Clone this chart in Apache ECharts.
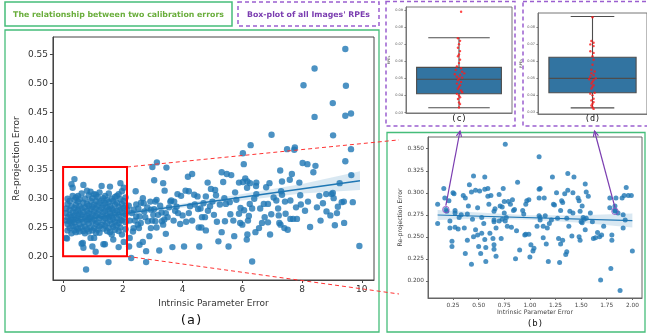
<!DOCTYPE html>
<html><head><meta charset="utf-8">
<script src="https://cdn.jsdelivr.net/npm/echarts@6/dist/echarts.min.js"></script>
<style>html,body{margin:0;padding:0;background:#fff}#c{width:647px;height:336px}</style>
</head><body><div id="c"></div>
<script>
// ---------- DATA ----------
const titleLeft = 'The relationship between two calibration errors';
const titleRight = "Box-plot of all Images' RPEs";
const xTicksA = [0, 2, 4, 6, 8, 10];
const yTicksA = [0.20, 0.25, 0.30, 0.35, 0.40, 0.45, 0.50, 0.55];
const xTicksB = [0.25, 0.50, 0.75, 1.00, 1.25, 1.50, 1.75, 2.00];
const yTicksB = [0.200, 0.225, 0.250, 0.275, 0.300, 0.325, 0.350];
const yTicksC = [0.03, 0.04, 0.05, 0.06, 0.07, 0.08, 0.09];
const yTicksD = [0.03, 0.04, 0.05, 0.06, 0.07, 0.08];

// panel (a): points with intrinsic error below ~2.1
const clusterA = [
[0.10,0.232],[0.10,0.262],[0.10,0.283],[0.10,0.275],
[0.15,0.245],[0.15,0.268],[0.15,0.291],[0.15,0.300],[0.15,0.256],
[0.22,0.281],[0.22,0.249],[0.22,0.272],[0.22,0.296],[0.22,0.261],
[0.28,0.325],[0.28,0.258],[0.28,0.287],[0.28,0.240],[0.28,0.268],
[0.32,0.319],[0.32,0.305],[0.32,0.276],[0.32,0.252],[0.32,0.263],
[0.38,0.334],[0.38,0.298],[0.38,0.284],[0.38,0.245],[0.38,0.271],[0.38,0.259],
[0.43,0.302],[0.43,0.289],[0.43,0.266],[0.43,0.251],[0.43,0.242],[0.43,0.278],
[0.50,0.295],[0.50,0.280],[0.50,0.262],[0.50,0.248],[0.50,0.305],[0.50,0.270],
[0.55,0.287],[0.55,0.274],[0.55,0.256],[0.55,0.243],[0.55,0.299],
[0.62,0.309],[0.62,0.283],[0.62,0.265],[0.62,0.250],[0.62,0.272],[0.62,0.222],
[0.68,0.324],[0.68,0.293],[0.68,0.277],[0.68,0.259],[0.68,0.244],[0.68,0.215],
[0.73,0.300],[0.73,0.285],[0.73,0.268],[0.73,0.252],[0.73,0.240],
[0.80,0.314],[0.80,0.291],[0.80,0.279],[0.80,0.262],[0.80,0.247],[0.80,0.271],
[0.86,0.306],[0.86,0.288],[0.86,0.257],[0.86,0.243],[0.86,0.275],[0.86,0.265],
[0.92,0.312],[0.92,0.296],[0.92,0.282],[0.92,0.268],[0.92,0.250],[0.92,0.232],
[0.98,0.301],[0.98,0.286],[0.98,0.273],[0.98,0.260],[0.98,0.245],[0.98,0.217],
[1.04,0.308],[1.04,0.290],[1.04,0.278],[1.04,0.264],[1.04,0.249],[1.04,0.232],
[1.10,0.296],[1.10,0.283],[1.10,0.270],[1.10,0.256],[1.10,0.241],[1.10,0.307],
[1.16,0.303],[1.16,0.288],[1.16,0.274],[1.16,0.259],[1.16,0.246],
[1.22,0.293],[1.22,0.280],[1.22,0.266],[1.22,0.252],[1.22,0.241],[1.22,0.311],
[1.29,0.322],[1.29,0.297],[1.29,0.284],[1.29,0.270],[1.29,0.255],
[1.35,0.289],[1.35,0.276],[1.35,0.262],[1.35,0.248],[1.35,0.301],[1.35,0.221],
[1.41,0.305],[1.41,0.292],[1.41,0.279],[1.41,0.266],[1.41,0.253],
[1.47,0.298],[1.47,0.285],[1.47,0.271],[1.47,0.258],[1.47,0.244],
[1.53,0.309],[1.53,0.294],[1.53,0.281],[1.53,0.268],[1.53,0.249],[1.52,0.190],
[1.57,0.321],[1.57,0.287],[1.57,0.275],[1.57,0.262],[1.57,0.242],
[1.63,0.300],[1.63,0.283],[1.63,0.270],[1.63,0.256],[1.63,0.238],
[1.68,0.296],[1.68,0.280],[1.68,0.265],[1.68,0.251],[1.68,0.229],
[1.74,0.303],[1.74,0.290],[1.74,0.276],[1.74,0.260],[1.74,0.246],
[1.80,0.293],[1.80,0.279],[1.80,0.267],[1.80,0.254],[1.80,0.305],
[1.86,0.308],[1.86,0.286],[1.86,0.272],[1.86,0.258],[1.86,0.244],[1.86,0.216],
[1.92,0.327],[1.92,0.299],[1.92,0.281],[1.92,0.263],[1.92,0.250],
[1.97,0.313],[1.97,0.291],[1.97,0.276],[1.97,0.262],[1.97,0.238],
[2.03,0.319],[2.03,0.296],[2.03,0.284],[2.03,0.268],[2.03,0.225],
[2.09,0.302],[2.09,0.287],[2.09,0.273],[2.09,0.259],[2.09,0.247],
[0.77,0.177],[1.09,0.208],[0.13,0.231],[0.66,0.223],[1.40,0.221]
];
// panel (a): points with intrinsic error above ~2.1
const spreadA = [
[9.45,0.560],[8.42,0.526],[8.05,0.497],[9.47,0.496],[9.03,0.466],[8.42,0.442],[9.45,0.444],[9.64,0.448],
[9.04,0.410],[6.98,0.411],[6.28,0.393],[9.64,0.386],[7.50,0.386],[7.76,0.389],[7.74,0.385],[6.02,0.379],
[8.02,0.362],[8.18,0.360],[6.05,0.360],[9.45,0.365],[8.45,0.357],[8.38,0.346],[7.27,0.349],[9.65,0.341],
[7.66,0.343],[7.59,0.333],[3.14,0.363],[2.99,0.355],[3.46,0.354],[4.32,0.343],[4.18,0.338],[5.31,0.346],
[5.48,0.343],[5.63,0.341],[6.10,0.335],[5.89,0.328],[6.17,0.330],[6.26,0.327],[6.47,0.328],[6.46,0.322],
[6.16,0.319],[6.91,0.327],[6.80,0.320],[7.33,0.330],[7.91,0.328],[9.26,0.327],[3.05,0.332],[3.35,0.327],
[3.40,0.314],[4.84,0.328],[5.36,0.329],[4.95,0.317],[5.09,0.315],[4.10,0.314],[4.21,0.313],[3.83,0.308],
[3.95,0.305],[3.59,0.295],[3.72,0.295],[4.39,0.307],[4.50,0.304],[4.78,0.304],[5.12,0.306],[5.58,0.294],
[5.76,0.311],[6.02,0.329],[6.47,0.308],[6.72,0.291],[6.86,0.291],[7.14,0.297],[7.30,0.313],[7.43,0.295],
[7.33,0.307],[7.61,0.297],[7.94,0.306],[7.96,0.290],[8.58,0.305],[8.81,0.308],[8.99,0.308],[9.03,0.310],
[9.06,0.301],[9.33,0.294],[9.40,0.295],[9.70,0.294],[8.10,0.279],[8.82,0.278],[9.17,0.275],[8.95,0.271],
[7.83,0.265],[7.70,0.265],[7.61,0.265],[7.22,0.271],[7.24,0.258],[7.28,0.255],[7.41,0.249],[7.52,0.246],
[8.62,0.262],[8.27,0.251],[9.10,0.254],[9.41,0.258],[9.92,0.218],[6.97,0.273],[6.66,0.258],[6.56,0.249],
[6.44,0.242],[6.93,0.238],[6.86,0.259],[6.33,0.283],[6.25,0.291],[6.22,0.270],[6.19,0.262],[6.17,0.238],
[6.15,0.229],[6.06,0.280],[5.94,0.284],[5.89,0.274],[5.93,0.258],[6.00,0.255],[5.73,0.235],[5.54,0.217],
[5.20,0.226],[5.31,0.242],[5.42,0.261],[5.45,0.291],[5.40,0.301],[6.33,0.191],[5.00,0.295],[4.92,0.287],
[4.85,0.279],[4.75,0.268],[4.65,0.268],[4.78,0.245],[4.54,0.250],[4.63,0.250],[4.56,0.217],[4.05,0.217],
[3.66,0.216],[4.32,0.262],[4.52,0.282],[4.41,0.290],[4.21,0.275],[4.00,0.271],[3.85,0.275],[3.75,0.279],
[3.55,0.285],[3.44,0.275],[3.39,0.264],[3.31,0.261],[3.35,0.255],[3.44,0.239],[3.22,0.210],[3.13,0.250],
[3.09,0.261],[3.02,0.272],[2.94,0.281],[3.09,0.295],[3.13,0.298],[2.94,0.249],[2.89,0.235],[2.78,0.209],
[2.78,0.190],[2.67,0.225],[2.67,0.301],[2.61,0.293],[2.56,0.269],[2.50,0.255],[2.43,0.313],[2.45,0.290],
[2.36,0.281],[2.23,0.262],[2.28,0.197],[2.23,0.232],[2.21,0.217],[2.34,0.243],[2.36,0.249],[2.54,0.249],
[2.56,0.220],[2.72,0.278],[2.84,0.261],[2.45,0.269],[2.14,0.281],
[2.20,0.288],[2.30,0.275],[2.40,0.262],[2.52,0.283],[2.60,0.258],[2.70,0.292],[2.75,0.268],[2.82,0.285],
[2.92,0.295],[2.98,0.262],[3.05,0.282],[3.18,0.272],[3.25,0.288],[3.30,0.276],[3.50,0.268],[3.62,0.297],
[3.70,0.262],[3.80,0.286],[3.92,0.256],[4.12,0.260],[4.25,0.287],[4.60,0.283],[4.70,0.292],[5.05,0.272],
[5.15,0.260],[5.25,0.290],[5.60,0.273],[5.70,0.262],[5.80,0.298],[6.40,0.300],[6.60,0.283],[6.75,0.268],
[7.05,0.302],[7.20,0.283],[7.45,0.274],[7.80,0.285],[8.20,0.295],[8.50,0.285],[8.70,0.292],[9.20,0.286]
];
const regLineA = [[0.12, 0.260], [9.94, 0.3312]];
const bandXA = [0.12, 2, 4, 6, 8, 9.94];
const bandLowA = [0.254, 0.2700, 0.2843, 0.2970, 0.3090, 0.3150];
const bandHighA = [0.266, 0.2772, 0.2919, 0.3082, 0.3255, 0.3475];
const zoomBox = [0, 0.200, 2.14, 0.355]; // xmin, ymin, xmax, ymax

// panel (b)
const pointsB = [
[0.10,0.287],[0.10,0.265],[0.16,0.305],[0.17,0.294],[0.18,0.281],[0.19,0.279],[0.21,0.291],[0.22,0.268],
[0.22,0.260],[0.24,0.245],[0.24,0.239],[0.25,0.300],[0.26,0.299],[0.27,0.280],[0.27,0.277],[0.27,0.261],
[0.30,0.259],[0.31,0.272],[0.33,0.275],[0.35,0.297],[0.37,0.294],[0.36,0.260],[0.39,0.276],[0.37,0.231],
[0.39,0.246],[0.41,0.309],[0.40,0.285],[0.43,0.301],[0.43,0.219],[0.45,0.319],[0.44,0.270],[0.45,0.250],
[0.47,0.303],[0.47,0.258],[0.49,0.283],[0.49,0.252],[0.50,0.239],[0.51,0.302],[0.52,0.231],[0.53,0.254],
[0.53,0.272],[0.55,0.265],[0.56,0.318],[0.56,0.304],[0.57,0.238],[0.56,0.247],[0.57,0.222],[0.59,0.296],
[0.59,0.305],[0.60,0.287],[0.61,0.254],[0.62,0.297],[0.64,0.248],[0.65,0.279],[0.65,0.269],[0.65,0.267],
[0.65,0.241],[0.65,0.236],[0.66,0.282],[0.67,0.228],[0.67,0.260],[0.70,0.268],[0.70,0.298],[0.71,0.285],
[0.72,0.248],[0.73,0.270],[0.73,0.284],[0.74,0.305],[0.75,0.290],[0.76,0.355],[0.75,0.277],[0.76,0.268],
[0.77,0.272],[0.78,0.262],[0.79,0.290],[0.81,0.287],[0.82,0.261],[0.83,0.292],[0.84,0.280],[0.85,0.281],
[0.86,0.225],[0.87,0.257],[0.88,0.312],[0.90,0.235],[0.93,0.280],[0.94,0.276],[0.95,0.252],[0.96,0.253],
[0.96,0.287],[0.97,0.291],[0.99,0.253],[0.99,0.292],[1.00,0.227],[1.01,0.241],[1.03,0.234],[1.04,0.237],
[1.07,0.262],[1.09,0.341],[1.09,0.294],[1.09,0.304],[1.10,0.305],[1.09,0.274],[1.10,0.272],[1.10,0.269],
[1.13,0.249],[1.13,0.262],[1.14,0.294],[1.15,0.274],[1.16,0.242],[1.17,0.260],[1.18,0.222],[1.19,0.265],
[1.21,0.269],[1.22,0.318],[1.23,0.287],[1.24,0.286],[1.26,0.300],[1.27,0.271],[1.28,0.248],[1.29,0.221],
[1.30,0.280],[1.30,0.242],[1.31,0.291],[1.32,0.289],[1.32,0.246],[1.34,0.299],[1.35,0.230],[1.36,0.233],
[1.36,0.271],[1.37,0.303],[1.37,0.322],[1.38,0.262],[1.39,0.279],[1.41,0.251],[1.42,0.300],[1.42,0.277],
[1.43,0.318],[1.47,0.294],[1.48,0.250],[1.48,0.291],[1.49,0.246],[1.49,0.279],[1.50,0.267],[1.51,0.266],
[1.51,0.285],[1.52,0.272],[1.53,0.270],[1.54,0.310],[1.54,0.258],[1.55,0.301],[1.55,0.271],[1.57,0.296],
[1.59,0.277],[1.61,0.267],[1.62,0.248],[1.64,0.249],[1.66,0.255],[1.68,0.250],[1.69,0.201],[1.70,0.252],
[1.72,0.262],[1.78,0.294],[1.78,0.283],[1.79,0.214],[1.80,0.246],[1.80,0.252],[1.83,0.285],[1.83,0.280],
[1.83,0.279],[1.84,0.294],[1.86,0.277],[1.88,0.189],[1.90,0.294],[1.91,0.260],[1.91,0.275],[1.92,0.297],
[1.93,0.269],[1.94,0.306],[1.96,0.297],[1.99,0.297],[2.00,0.234]
];
const regLineB = [[0.10, 0.2748], [2.00, 0.2683]];
const bandXB = [0.10, 0.5, 1.0, 1.5, 2.0];
const bandLowB = [0.2690, 0.2705, 0.2695, 0.2660, 0.2605];
const bandHighB = [0.2805, 0.2775, 0.2745, 0.2745, 0.2765];
const circledB = [[0.18, 0.281], [1.83, 0.279]];

// panels (c) and (d): [min whisker, Q1, median, Q3, max whisker]
const boxStatsC = [0.0329, 0.0411, 0.0495, 0.0565, 0.0738];
const boxStatsD = [0.0326, 0.0415, 0.0500, 0.0624, 0.0864];
const stripC = [0.089,0.0735,0.072,0.070,0.068,0.066,0.064,0.063,0.061,0.059,0.057,0.056,0.055,0.054,0.053,0.0525,
  0.052,0.051,0.0505,0.050,0.049,0.048,0.047,0.046,0.045,0.044,0.043,0.042,0.041,0.040,0.039,0.038,0.036,0.035,0.033];
const jitterC = [0.02,-0.01,0.01,0,-0.01,0.01,0,-0.01,0.01,0,-0.02,0.02,-0.03,0.03,0.05,-0.04,
  0.01,-0.02,0.03,0,-0.01,0.02,-0.02,0.01,0,-0.01,0.02,0.03,-0.02,0,0.01,-0.01,0,0.01,0];
const stripD = [0.086,0.072,0.071,0.070,0.069,0.066,0.065,0.063,0.061,0.058,0.055,0.054,0.053,0.052,0.051,0.050,
  0.0495,0.049,0.048,0.047,0.046,0.045,0.044,0.0415,0.041,0.040,0.038,0.037,0.036,0.035,0.034,0.033,0.032];
const jitterD = [0,-0.01,0.01,-0.02,0.01,-0.02,0.01,0,0.01,0,-0.01,0.02,-0.01,0.01,-0.02,0.03,
  -0.03,0.01,0,-0.01,0.01,0,-0.01,0.02,-0.02,0,0.01,-0.01,0.01,0,-0.01,0,0.01];

// ---------- CHART ----------
const AX = '#444', TXT = '#333', FONT = 'DejaVu Sans';
const BLUE = '#1f77b4';
const chart = echarts.init(document.getElementById('c'), null, {renderer: 'canvas'});

function vAxis(o) {
  const base = {
    type: 'value', splitLine: {show: false},
    axisLine: {show: true, onZero: false, lineStyle: {color: AX, width: 1}},
    axisTick: {show: true, length: 3, lineStyle: {color: AX}},
    axisLabel: {color: TXT, fontFamily: FONT},
    nameLocation: 'middle', nameTextStyle: {color: TXT, fontFamily: FONT}
  };
  const r = Object.assign({}, base, o);
  r.axisLabel = Object.assign({}, base.axisLabel, o.axisLabel || {});
  r.axisTick = Object.assign({}, base.axisTick, o.axisTick || {});
  r.nameTextStyle = Object.assign({}, base.nameTextStyle, o.nameTextStyle || {});
  return r;
}
const fx = n => v => v.toFixed(n);

function bandSeries(idx, xs, lo, hi) {
  return {
    type: 'custom', xAxisIndex: idx, yAxisIndex: idx, data: [[xs[0], lo[0]]], silent: true, z: 3,
    renderItem(params, api) {
      const pts = [];
      xs.forEach((x, i) => pts.push(api.coord([x, hi[i]])));
      for (let i = xs.length - 1; i >= 0; i--) pts.push(api.coord([xs[i], lo[i]]));
      return {type: 'polygon', shape: {points: pts}, style: {fill: 'rgba(31,119,180,0.17)'}};
    }
  };
}
function lineSeries(idx, pts, w) {
  return {type: 'line', xAxisIndex: idx, yAxisIndex: idx, data: pts, showSymbol: false, symbol: 'none',
    lineStyle: {color: BLUE, width: w}, z: 4, silent: true};
}
function boxSeries(idx, st, capHW) {
  return {
    type: 'custom', xAxisIndex: idx, yAxisIndex: idx, data: [[0, st[2]]], silent: true, z: 2,
    renderItem(params, api) {
      const [mn, q1, md, q3, mx] = st, hw = 0.4;
      const c = (x, y) => api.coord([x, y]);
      const ls = {stroke: '#4d4d4d', lineWidth: 1.1};
      const ln = (a, b) => ({type: 'line', shape: {x1: a[0], y1: a[1], x2: b[0], y2: b[1]}, style: ls});
      const tl = c(-hw, q3), br = c(hw, q1);
      return {type: 'group', children: [
        ln(c(0, q3), c(0, mx)), ln(c(0, q1), c(0, mn)),
        ln(c(-capHW, mx), c(capHW, mx)), ln(c(-capHW, mn), c(capHW, mn)),
        {type: 'rect', shape: {x: tl[0], y: tl[1], width: br[0] - tl[0], height: br[1] - tl[1]},
          style: {fill: '#3274a1', stroke: '#4d4d4d', lineWidth: 1.1}},
        ln(c(-hw, md), c(hw, md))
      ]};
    }
  };
}

const option = {
  animation: false,
  backgroundColor: '#fff',
  textStyle: {fontFamily: FONT},
  grid: [
    {left: 49, top: 37, width: 325, height: 243, show: true, borderColor: AX, borderWidth: 1},
    {left: 428, top: 137, width: 214, height: 161, show: true, borderColor: '#666', borderWidth: 1},
    {left: 406, top: 7, width: 106, height: 106, show: true, borderColor: '#777', borderWidth: 1},
    {left: 538, top: 13, width: 110, height: 101, show: true, borderColor: '#777', borderWidth: 1}
  ],
  xAxis: [
    vAxis({gridIndex: 0, min: -0.34, max: 10.41,
      axisLabel: {customValues: xTicksA, fontSize: 9, margin: 5},
      axisTick: {customValues: xTicksA},
      name: 'Intrinsic Parameter Error', nameGap: 18, nameTextStyle: {fontSize: 9}}),
    vAxis({gridIndex: 1, min: 0.006, max: 2.094,
      axisLine: {show: true, onZero: false, lineStyle: {color: '#666'}},
      axisLabel: {customValues: xTicksB, fontSize: 5.8, margin: 4, formatter: fx(2), color: '#444'},
      axisTick: {customValues: xTicksB, length: 2, lineStyle: {color: '#666'}},
      name: 'Intrinsic Parameter Error', nameGap: 11, nameTextStyle: {fontSize: 6.2, color: '#444'}}),
    vAxis({gridIndex: 2, min: -0.5, max: 0.5, axisLabel: {show: false}, axisTick: {show: false},
      axisLine: {show: true, onZero: false, lineStyle: {color: '#777'}}}),
    vAxis({gridIndex: 3, min: -0.5, max: 0.5, axisLabel: {show: false}, axisTick: {show: false},
      axisLine: {show: true, onZero: false, lineStyle: {color: '#777'}}})
  ],
  yAxis: [
    vAxis({gridIndex: 0, min: 0.1589, max: 0.5807,
      axisLabel: {customValues: yTicksA, fontSize: 9, margin: 5, formatter: fx(2)},
      axisTick: {customValues: yTicksA},
      name: 'Re-projection Error', nameGap: 32, nameTextStyle: {fontSize: 9}}),
    vAxis({gridIndex: 1, min: 0.1806, max: 0.3633,
      axisLine: {show: true, onZero: false, lineStyle: {color: '#666'}},
      axisLabel: {customValues: yTicksB, fontSize: 5.8, margin: 4, formatter: fx(3), color: '#444'},
      axisTick: {customValues: yTicksB, length: 2, lineStyle: {color: '#666'}},
      name: 'Re-projection Error', nameGap: 24, nameTextStyle: {fontSize: 6.2, color: '#444'}}),
    vAxis({gridIndex: 2, min: 0.0298, max: 0.0918,
      axisLine: {show: true, onZero: false, lineStyle: {color: '#777'}},
      axisLabel: {customValues: yTicksC, fontSize: 3.5, margin: 3, color: '#555', formatter: fx(2)},
      axisTick: {customValues: yTicksC, length: 1.5, lineStyle: {color: '#777'}},
      name: 'RPEs', nameGap: 11, nameTextStyle: {fontSize: 3.5, color: '#555'}}),
    vAxis({gridIndex: 3, min: 0.0290, max: 0.0885,
      axisLine: {show: true, onZero: false, lineStyle: {color: '#777'}},
      axisLabel: {customValues: yTicksD, fontSize: 3.5, margin: 3, color: '#555', formatter: fx(2)},
      axisTick: {customValues: yTicksD, length: 1.5, lineStyle: {color: '#777'}},
      name: 'RPEs', nameGap: 11, nameTextStyle: {fontSize: 3.5, color: '#555'}})
  ],
  series: [
    {type: 'scatter', xAxisIndex: 0, yAxisIndex: 0, data: clusterA.concat(spreadA), symbolSize: 6.4,
      itemStyle: {color: BLUE, opacity: 0.8}, z: 2, silent: true},
    bandSeries(0, bandXA, bandLowA, bandHighA),
    lineSeries(0, regLineA, 1.6),
    {type: 'scatter', xAxisIndex: 1, yAxisIndex: 1, data: pointsB, symbolSize: 5,
      itemStyle: {color: BLUE, opacity: 0.8}, z: 2, silent: true},
    bandSeries(1, bandXB, bandLowB, bandHighB),
    lineSeries(1, regLineB, 1.2),
    {type: 'scatter', xAxisIndex: 1, yAxisIndex: 1, data: circledB, symbolSize: 6.5,
      itemStyle: {color: 'rgba(0,0,0,0)', borderColor: '#8e44c0', borderWidth: 1}, z: 6, silent: true},
    boxSeries(2, boxStatsC, 0.29),
    {type: 'scatter', xAxisIndex: 2, yAxisIndex: 2, data: stripC.map((v, i) => [jitterC[i], v]),
      symbolSize: 2.4, itemStyle: {color: '#ff1a1a'}, z: 5, silent: true},
    boxSeries(3, boxStatsD, 0.2),
    {type: 'scatter', xAxisIndex: 3, yAxisIndex: 3, data: stripD.map((v, i) => [jitterD[i], v]),
      symbolSize: 2.4, itemStyle: {color: '#ff1a1a'}, z: 5, silent: true}
  ]
};
chart.setOption(option);

// ---------- annotations positioned through the axes ----------
const px = (g, pt) => chart.convertToPixel({gridIndex: g}, pt);
const GREEN = '#45bd7a', PURPLE = '#9b5fd0', ARROW = '#7a3cb0';
const g = [];
function rect(x, y, w, h, stroke, dash, lw) {
  g.push({type: 'rect', silent: true, z: 1, shape: {x, y, width: w, height: h},
    style: {fill: 'none', stroke, lineWidth: lw || 1.3, lineDash: dash || null}});
}
function text(x, y, t, font, fill) {
  g.push({type: 'text', silent: true, z: 10, x, y,
    style: {text: t, font, fill, align: 'center', verticalAlign: 'middle'}});
}
// frames
rect(5, 2, 227, 24, GREEN, null, 1.5);
rect(238, 2, 141, 24, PURPLE, [4, 3], 1.5);
rect(5, 30, 374, 302, GREEN, null, 1.3);
rect(387, 132.5, 258, 199.5, GREEN, null, 1.3);
rect(386, 1.5, 129, 124.5, PURPLE, [4, 3], 1.5);
rect(523, 1.5, 130, 124.5, PURPLE, [4, 3], 1.5);
text(118.5, 14.5, titleLeft, 'bold 7.8px DejaVu Sans', '#6aae3c');
text(308.5, 14.5, titleRight, 'bold 7.8px DejaVu Sans', '#7a3cb0');
text(191, 321, '(a)', '13px DejaVu Sans Mono', '#111');
text(535, 324, '(b)', '9px DejaVu Sans Mono', '#111');
text(px(2, [0, 0.03])[0], 119, '(c)', '8.5px DejaVu Sans Mono', '#111');
text(px(3, [0, 0.03])[0], 119, '(d)', '8.5px DejaVu Sans Mono', '#111');

// red zoom rectangle and connectors
const tl = px(0, [zoomBox[0], zoomBox[3]]), br = px(0, [zoomBox[2], zoomBox[1]]);
g.push({type: 'rect', silent: true, z: 8, shape: {x: tl[0], y: tl[1], width: br[0] - tl[0], height: br[1] - tl[1]},
  style: {fill: 'none', stroke: '#ff0000', lineWidth: 2}});
const bTL = px(1, [0.006, 0.3633]), bBL = px(1, [0.006, 0.1806]);
const cutX = bTL[0] - 29;
function cutLine(a, b) {
  const t = (cutX - a[0]) / (b[0] - a[0]);
  return [cutX, a[1] + (b[1] - a[1]) * t];
}
[[[br[0], tl[1]], bTL], [[br[0], br[1]], bBL]].forEach(([a, b]) => {
  const e = cutLine(a, b);
  g.push({type: 'line', silent: true, z: 7, shape: {x1: a[0], y1: a[1], x2: e[0], y2: e[1]},
    style: {stroke: '#ff3333', lineWidth: 1, lineDash: [4, 3]}});
});

// purple arrows from circled points in (b) to box plots (c), (d)
[[circledB[0], 2], [circledB[1], 3]].forEach(([pt, gi]) => {
  const s = px(1, pt);
  const start = [s[0], s[1] - 4];
  const end = [px(gi, [0, 0.03])[0] + (gi === 2 ? 1 : 2), 131];
  g.push({type: 'line', silent: true, z: 9, shape: {x1: start[0], y1: start[1], x2: end[0], y2: end[1]},
    style: {stroke: ARROW, lineWidth: 1.2}});
  const ang = Math.atan2(end[1] - start[1], end[0] - start[0]);
  const L = 6, A = 0.45;
  const p1 = [end[0] - L * Math.cos(ang - A), end[1] - L * Math.sin(ang - A)];
  const p2 = [end[0] - L * Math.cos(ang + A), end[1] - L * Math.sin(ang + A)];
  g.push({type: 'polyline', silent: true, z: 9, shape: {points: [p1, end, p2]},
    style: {stroke: ARROW, lineWidth: 1.2, fill: 'none'}});
});
chart.setOption({graphic: g});
</script>
</body></html>
